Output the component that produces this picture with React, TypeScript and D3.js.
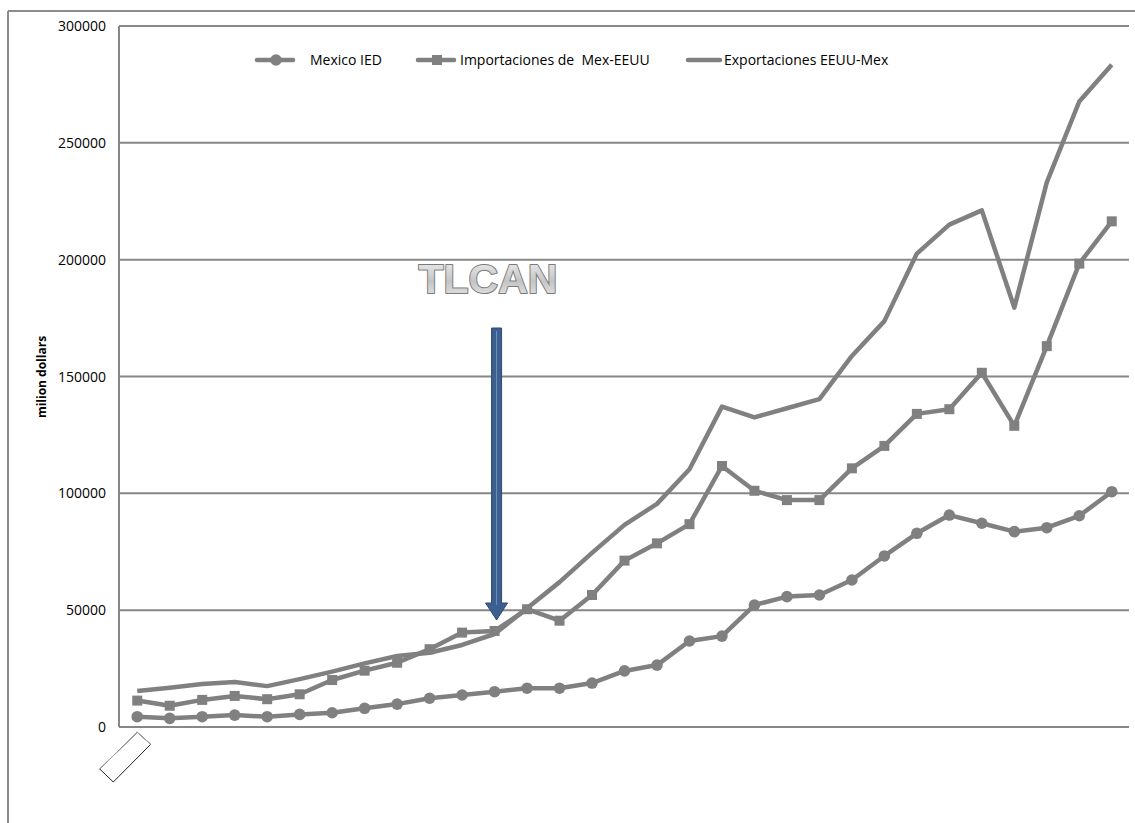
import React from "react";
import * as d3 from "d3";

const years = d3.range(1980, 2011).map(String);
const mexicoIED = [4400, 3700, 4400, 5100, 4400, 5400, 6100, 8000, 9800, 12300, 13700, 15100, 16600, 16600, 18800, 24000, 26500, 36800, 38900, 52200, 55800, 56500, 62900, 73200, 82900, 90700, 87200, 83600, 85300, 90400, 100700];
const importaciones = [11300, 9100, 11600, 13300, 11900, 14000, 20100, 24100, 27500, 33300, 40400, 41100, 50400, 45500, 56500, 71200, 78600, 86800, 111700, 101100, 97100, 97100, 110700, 120300, 134000, 136000, 151600, 128900, 163000, 198300, 216400];
const exportaciones = [15400, 16800, 18400, 19300, 17500, 20500, 23700, 27200, 30400, 31800, 35100, 39800, 50800, 62000, 74500, 86500, 95500, 110300, 137100, 132500, 136400, 140300, 158800, 173700, 202600, 215000, 221100, 179500, 233100, 267700, 283400];
const yTicks = [0, 50000, 100000, 150000, 200000, 250000, 300000];
const legendLabels = ["Mexico IED", "Importaciones de  Mex-EEUU", "Exportaciones EEUU-Mex"];
const annotation = "TLCAN";
const yTitle = "milion dollars";
const tlcanYear = "1991";

const W = 1135, H = 823;
const L = 119, R = 1129, T = 26, B = 727;
const GRAY = "#808080";
const GRID = "#878787";
const FONT = "'Open Sans', 'Liberation Sans', sans-serif";

export default function App() {
  const x = d3.scalePoint<string>().domain(years).range([L + 2, R - 1]).padding(0.5);
  const y = d3.scaleLinear().domain([0, 300000]).range([B, T]);
  const line = d3.line<number>().x((_, i) => x(years[i])!).y((d) => y(d));

  const ax = x(tlcanYear)! + 2;
  const arrowTop = 328, headStart = 603, tip = y(41100) - 11;
  const arrowPath = `M${ax - 5},${arrowTop} L${ax + 5},${arrowTop} L${ax + 5},${headStart} L${ax + 11},${headStart} L${ax},${tip} L${ax - 11},${headStart} L${ax - 5},${headStart} Z`;

  return (
    <svg width={W} height={H} style={{ position: "absolute", left: 0, top: 0, background: "#fff" }}>
      <defs>
        <linearGradient id="tg" x1="0" y1="0" x2="0" y2="1">
          <stop offset="0" stopColor="#f4f4f4" />
          <stop offset="0.55" stopColor="#c4c4c4" />
          <stop offset="1" stopColor="#ececec" />
        </linearGradient>
      </defs>
      {/* outer frame */}
      <line x1={8} y1={11} x2={W} y2={11} stroke="#8c8c8c" strokeWidth={2} />
      <line x1={8} y1={11} x2={8} y2={H} stroke="#8c8c8c" strokeWidth={2} />

      {/* grid */}
      {yTicks.map((t) => (
        <line key={t} x1={L} x2={R} y1={y(t)} y2={y(t)} stroke={GRID} strokeWidth={2} />
      ))}
      <line x1={L} x2={L} y1={T} y2={B} stroke={GRID} strokeWidth={2} />

      {/* tick labels */}
      {yTicks.map((t) => (
        <text key={t} x={106} y={y(t)} dy="0.36em" textAnchor="end" fontFamily={FONT} fontSize={14} fill="#000">
          {t}
        </text>
      ))}
      <text transform={`translate(46,377) rotate(-90)`} textAnchor="middle" fontFamily={FONT} fontSize={12} fontWeight="bold" fill="#000">
        {yTitle}
      </text>

      {/* empty rotated category label box */}
      <polygon points="137.3,732.3 150.7,744.3 113.3,782 99.7,769" fill="#fff" stroke="#222" strokeWidth={1} />
      <polyline points="99.7,769 137.3,732.3 150.7,744.3" fill="none" stroke="#aaa" strokeWidth={1} />

      {/* series */}
      <path d={line(exportaciones)!} fill="none" stroke={GRAY} strokeWidth={4.5} strokeLinejoin="round" />
      <path d={line(importaciones)!} fill="none" stroke={GRAY} strokeWidth={4.5} strokeLinejoin="round" />
      <path d={line(mexicoIED)!} fill="none" stroke={GRAY} strokeWidth={4.5} strokeLinejoin="round" />
      {importaciones.map((v, i) => (
        <rect key={"s" + i} x={x(years[i])! - 5} y={y(v) - 5} width={10} height={10} fill={GRAY} />
      ))}
      {mexicoIED.map((v, i) => (
        <circle key={"c" + i} cx={x(years[i])!} cy={y(v)} r={5.8} fill={GRAY} />
      ))}

      {/* legend */}
      <g fontFamily={FONT} fontSize={14} fill="#000">
        <line x1={257} x2={293} y1={60} y2={60} stroke={GRAY} strokeWidth={4.5} strokeLinecap="round" />
        <circle cx={276} cy={60} r={5.8} fill={GRAY} />
        <text x={310} y={60} dy="0.36em">{legendLabels[0]}</text>
        <line x1={418} x2={454} y1={60} y2={60} stroke={GRAY} strokeWidth={4.5} strokeLinecap="round" />
        <rect x={432} y={55} width={10} height={10} fill={GRAY} />
        <text x={460} y={60} dy="0.36em" style={{ whiteSpace: "pre" }}>{legendLabels[1]}</text>
        <line x1={688} x2={720} y1={60} y2={60} stroke={GRAY} strokeWidth={4.5} strokeLinecap="round" />
        <text x={724} y={60} dy="0.36em">{legendLabels[2]}</text>
      </g>

      {/* TLCAN annotation */}
      <text x={488} y={293} textAnchor="middle" fontFamily="'Liberation Sans', Arial, sans-serif" fontSize={41} fontWeight="bold" fill="url(#tg)" stroke="#7a7a7a" strokeWidth={2} paintOrder="stroke" strokeLinejoin="round">
        {annotation}
      </text>
      <path d={arrowPath} fill="#3c5f90" stroke="#2d4a74" strokeWidth={1} />
      <line x1={ax} x2={ax} y1={arrowTop + 3} y2={headStart + 2} stroke="#6f8fbd" strokeWidth={1} />
    </svg>
  );
}
